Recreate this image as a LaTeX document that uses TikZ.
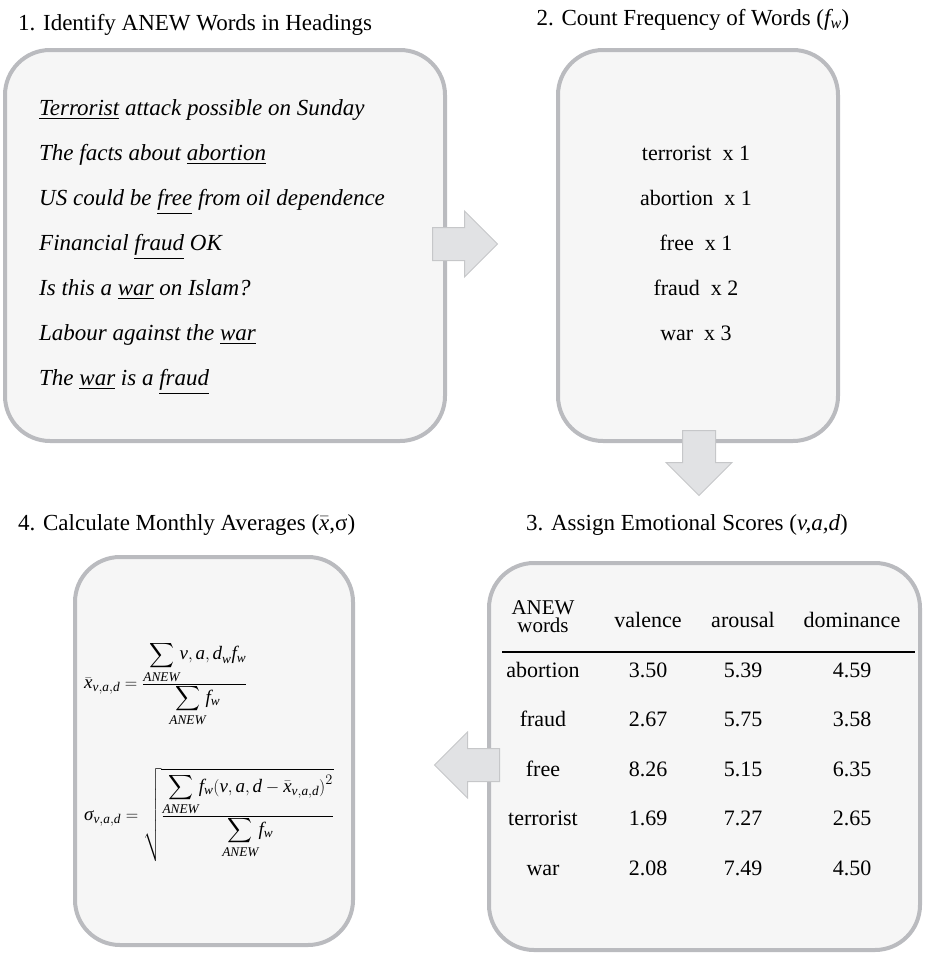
\documentclass[tikz,border=0pt]{standalone}
\usepackage{amsmath}
\usepackage{fontspec}
\setmainfont{Liberation Serif}
\newfontfamily\libser[NFSSFamily=libser]{Liberation Serif}
\DeclareMathAlphabet{\mathti}{TU}{libser}{m}{it}
\usetikzlibrary{positioning, shapes.arrows}
\definecolor{panelline}{RGB}{186,187,191}
\definecolor{panelfill}{RGB}{246,246,246}
\definecolor{arrowfill}{RGB}{225,226,228}
\definecolor{arrowline}{RGB}{198,199,201}
\newcommand{\vad}{\mathti{v,a,d}}
\newcommand{\anew}{\mathti{ANEW}}

\begin{document}
\begin{tikzpicture}[x=1pt, y=-1pt,
    panel/.style={draw=panelline, fill=panelfill, line width=4pt,
                  rounded corners=45pt, inner sep=0pt},
    steptitle/.style={font=\fontsize{23}{27}\selectfont, inner sep=0pt},
    headline/.style={font=\fontsize{23}{27}\selectfont\itshape, inner sep=0pt,
                     anchor=base west},
    freqline/.style={font=\fontsize{22}{26}\selectfont, inner sep=0pt, anchor=base},
    cell/.style={font=\fontsize{22}{24}\selectfont, inner sep=0pt, anchor=base},
    formula/.style={font=\fontsize{19}{23}\selectfont, inner sep=0pt, anchor=west},
    flow/.style={single arrow, draw=arrowline, fill=arrowfill, line width=1pt,
                 inner sep=16pt, minimum height=65pt, minimum width=65pt,
                 single arrow head extend=16.5pt, anchor=tail},
]
\useasboundingbox (0,0) rectangle (925,956);

% 1. headings with the ANEW words underlined
\node[panel, minimum width=440pt, minimum height=391pt] (headings) at (225,245.5) {};
\node[steptitle, anchor=base west] (t1) at (18,30) {1. Identify ANEW Words in Headings};
\foreach \txt [count=\i] in {\underline{Terrorist} attack possible on Sunday,
    The facts about \underline{abortion},
    US could be \underline{free} from oil dependence,
    Financial \underline{fraud} OK,
    Is this a \underline{war} on Islam?,
    Labour against the \underline{war},
    The \underline{war} is a \underline{fraud}}
  \node[headline] (h\i) at (39,70+45*\i) {\txt};

% 2. word frequencies
\node[panel, minimum width=280pt, minimum height=391pt] (counts) at (698,245.5) {};
\node[steptitle, anchor=base] (t2) at (693,25) {2. Count Frequency of Words ($\mathti{f_w}$)};
\foreach \w/\n [count=\i] in {terrorist/1, abortion/1, free/1, fraud/2, war/3}
  \node[freqline] (f\i) at (696,115+45*\i) {\w\ \ x \n};

% 3. emotional scores table
\node[panel, minimum width=431pt, minimum height=387pt] (scores) at (704.5,756.5) {};
\node[steptitle, anchor=base] (t3) at (687,530) {3. Assign Emotional Scores (\textit{v,a,d})};
\node[cell, anchor=center, align=center, font=\fontsize{21}{18}\selectfont] (cw) at (543,617) {ANEW\\words};
\node[cell] (cv) at (648,627) {valence};
\node[cell] (ca) at (743,627) {arousal};
\node[cell] (cd) at (852,627) {dominance};
\draw[line width=1.2pt] (502,652) -- (915,652);
\foreach \w/\v/\a/\d [count=\i] in {abortion/3.50/5.39/4.59, fraud/2.67/5.75/3.58,
    free/8.26/5.15/6.35, terrorist/1.69/7.27/2.65, war/2.08/7.49/4.50}
{
  \node[cell] (w\i) at (543,627.5+49.5*\i) {\w};
  \node[cell] (v\i) at (648,627.5+49.5*\i) {\v};
  \node[cell] (a\i) at (743,627.5+49.5*\i) {\a};
  \node[cell] (d\i) at (852,627.5+49.5*\i) {\d};
}

% 4. monthly averages
\node[panel, minimum width=278pt, minimum height=388pt] (averages) at (214,751) {};
\node[steptitle, anchor=base west] (t4) at (18,530) {4. Calculate Monthly Averages ($\bar{\mathti{x}}$,σ)};
\node[formula] (mean) at (84,684)
  {$\bar{\mathti{x}}_{\vad}=\frac{\displaystyle\sum_{\anew}\!\vad_{\mathti{w}}\mathti{f_w}}{\displaystyle\sum_{\anew}\!\mathti{f_w}}$};
\node[formula] (sd) at (84,815)
  {$\mbox{\itshape σ}_{\vad}=\sqrt{\frac{\displaystyle\sum_{\anew}\!\mathti{f_w}(\vad-\bar{\mathti{x}}_{\vad})^2}{\displaystyle\sum_{\anew}\!\mathti{f_w}}}$};

% block arrows between the steps
\node[flow] (a12) at (432,244) {};
\node[flow, shape border rotate=270] (a23) at (699,430) {};
\node[flow, shape border rotate=180] (a34) at (500,765) {};
\end{tikzpicture}
\end{document}
